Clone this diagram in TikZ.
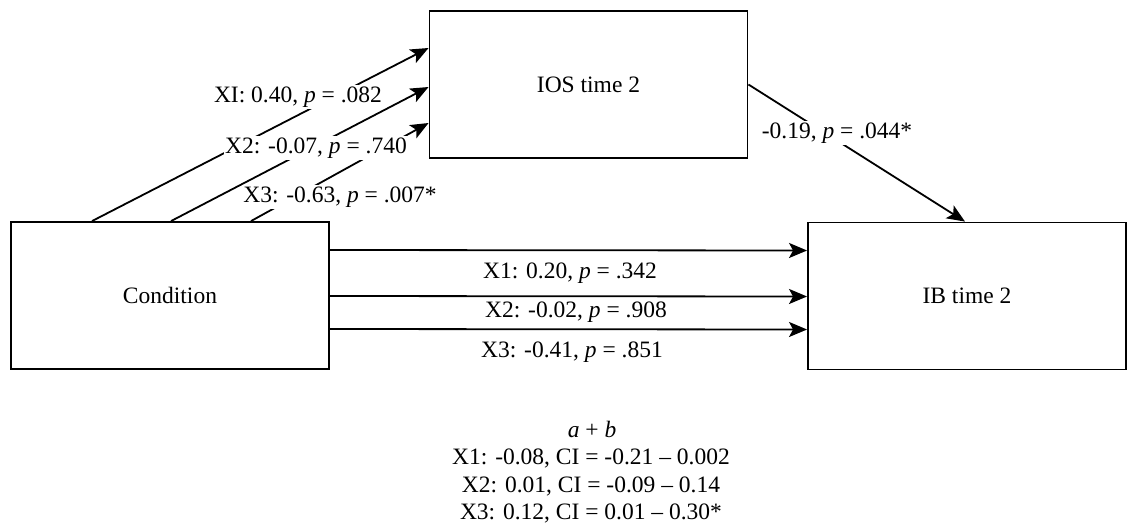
\documentclass[tikz,border=0pt]{standalone}
\usepackage{fontspec}
\setmainfont{Liberation Serif}
\usetikzlibrary{arrows.meta,calc}
\begin{document}
\begin{tikzpicture}[x=1pt,y=-1pt,
  every node/.style={font=\fontsize{23.5}{27.5}\selectfont},
  box/.style={draw=black,line width=1.9pt,fill=white,minimum width=318pt,minimum height=147pt,inner sep=0pt},
  conn/.style={line width=1.8pt,-{Stealth[length=18pt,width=15pt,inset=4pt]}},
  lab/.style={fill=white,inner sep=1.5pt},
  txt/.style={inner sep=0pt,anchor=base}]
\useasboundingbox (0,0) rectangle (1128,523);
\node[box] (cond) at (170,295.5) {Condition};
\node[box] (ios) at (588.5,84.5) {IOS time 2};
\node[box] (ib) at (967,296) {IB time 2};
% Condition -> IOS
\draw[conn] ($(cond.north west)+(82,0)$) -- ($(ios.west)+(0,-36.5)$);
\draw[conn] ($(cond.north west)+(161,0)$) -- ($(ios.west)+(0,2.5)$);
\draw[conn] ($(cond.north west)+(241,0)$) -- ($(ios.west)+(0,38.5)$);
% IOS -> IB
\draw[conn] (ios.east) -- ($(ib.north)+(-2,0)$);
% Condition -> IB
\draw[conn] ($(cond.east)+(0,-45.5)$) -- ($(ib.west)+(0,-45.5)$);
\draw[conn] ($(cond.east)+(0,0.5)$) -- ($(ib.west)+(0,0.5)$);
\draw[conn] ($(cond.east)+(0,33.5)$) -- ($(ib.west)+(0,33.5)$);
% labels
\node[lab] (l1) at (298,97) {XI: 0.40, \textit{p} = .082};
\node[lab] (l2) at (316,148) {X2: -0.07, \textit{p} = .740};
\node[lab] (l3) at (340,197) {X3: -0.63, \textit{p} = .007*};
\node[lab] (l4) at (837,133) {-0.19, \textit{p} = .044*};
\node[lab] (h1) at (570,273) {X1: 0.20, \textit{p} = .342};
\node[lab] (h2) at (576,312) {X2: -0.02, \textit{p} = .908};
\node[lab] (h3) at (572,352) {X3: -0.41, \textit{p} = .851};
% indirect effect
\node[txt] (t0) at (592,437) {\textit{a} + \textit{b}};
\node[txt] (t1) at (591,464.5) {X1: -0.08, CI = -0.21 \textendash{} 0.002};
\node[txt] (t2) at (591,492) {X2: 0.01, CI = -0.09 \textendash{} 0.14};
\node[txt] (t3) at (591,519.5) {X3: 0.12, CI = 0.01 \textendash{} 0.30*};
\end{tikzpicture}
\end{document}
